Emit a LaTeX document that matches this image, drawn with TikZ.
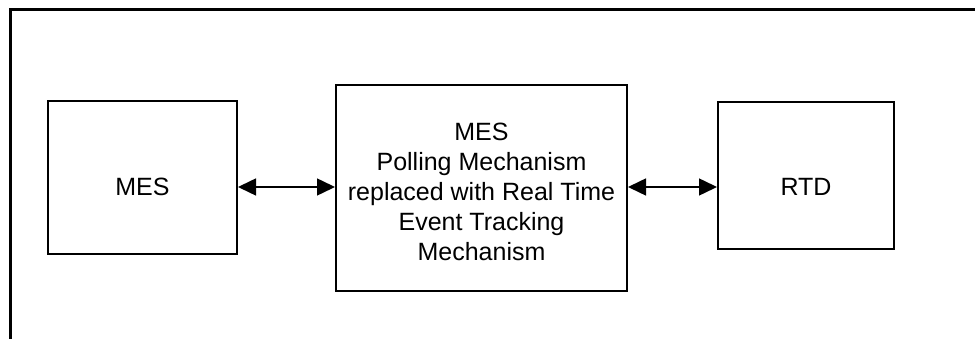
\documentclass[tikz,border=0pt]{standalone}
\usepackage{fontspec}
\setmainfont{Liberation Sans}
\usetikzlibrary{arrows.meta}
\begin{document}
\begin{tikzpicture}[x=1pt,y=-1pt,
  box/.style={draw, line width=2pt, inner sep=0pt},
  txt/.style={inner sep=0pt, align=center, font=\fontsize{25}{30}\selectfont},
  link/.style={line width=1.5pt,
    {Triangle[length=18pt,width=17pt]}-{Triangle[length=18pt,width=17pt]}}]
\useasboundingbox (0,0) rectangle (975,339);
% frame: top and left edges only
\draw[line width=3pt] (10.5,339) -- (10.5,9.5) -- (975,9.5);
% blocks
\node[box, minimum width=189pt, minimum height=153pt] (mesl) at (142.5,177.5) {};
\node[box, minimum width=291pt, minimum height=206pt] (core) at (481.5,188) {};
\node[box, minimum width=176pt, minimum height=147pt] (rtd) at (806,175.5) {};
% labels, set on the connector row
\coordinate (row) at (0,187);
\node[txt] (mesltext) at (mesl.center |- row) {MES};
\node[txt] (coretext) at ([yshift=-4pt]core.center)
  {MES\\Polling Mechanism\\replaced with Real Time\\Event Tracking\\Mechanism};
\node[txt] (rtdtext) at (rtd.center |- row) {RTD};
% connectors
\draw[link] (mesl.east |- row) -- (core.west |- row);
\draw[link] (core.east |- row) -- (rtd.west |- row);
\end{tikzpicture}
\end{document}
